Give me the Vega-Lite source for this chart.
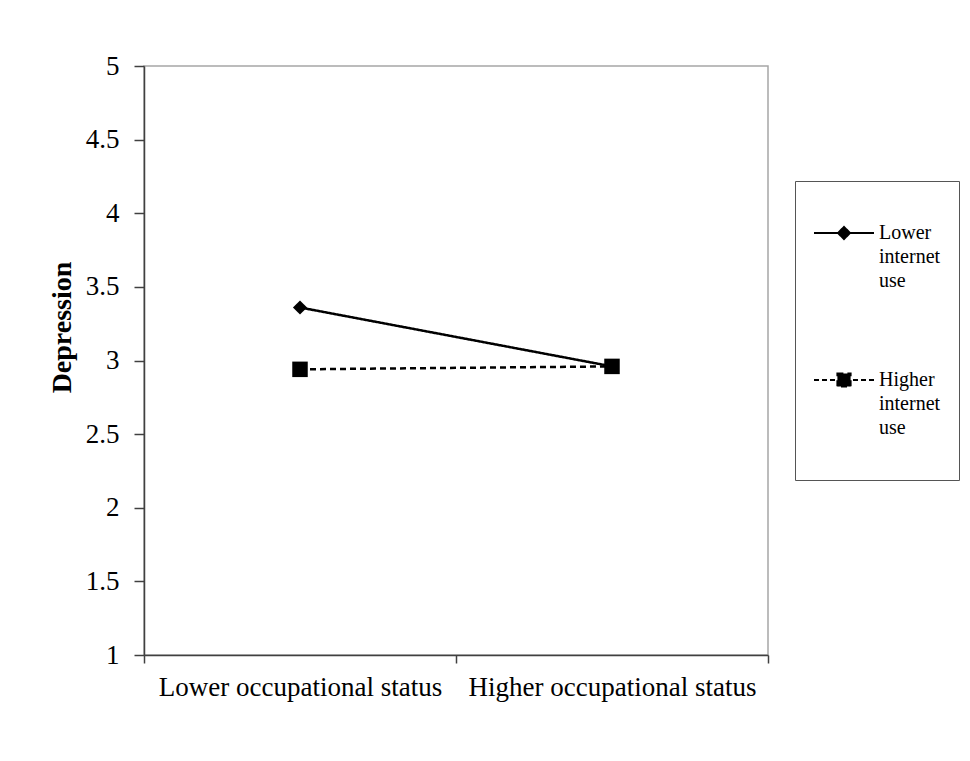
{
  "$schema": "https://vega.github.io/schema/vega-lite/v6.json",
  "width": 624,
  "height": 589,
  "autosize": {"type": "none"},
  "padding": {"left": 144, "top": 66, "right": 202, "bottom": 106},
  "background": "white",
  "config": {
    "view": {"stroke": "#a6a6a6", "strokeWidth": 1.5},
    "font": "Liberation Serif"
  },
  "data": {
    "values": [
      {"status": "Lower occupational status", "group": "Lower internet use", "depression": 3.36},
      {"status": "Higher occupational status", "group": "Lower internet use", "depression": 2.96},
      {"status": "Lower occupational status", "group": "Higher internet use", "depression": 2.94},
      {"status": "Higher occupational status", "group": "Higher internet use", "depression": 2.96}
    ]
  },
  "encoding": {
    "x": {
      "field": "status",
      "type": "nominal",
      "sort": ["Lower occupational status", "Higher occupational status"],
      "scale": {"paddingInner": 0, "paddingOuter": 0},
      "axis": {
        "title": null,
        "labelAngle": 0,
        "tickBand": "extent",
        "labelFont": "Liberation Serif",
        "labelFontSize": 27,
        "labelColor": "black",
        "labelPadding": 11,
        "labelLimit": 400,
        "tickSize": 8,
        "tickColor": "#404040",
        "tickWidth": 1.5,
        "domainColor": "#404040",
        "domainWidth": 1.5
      }
    },
    "y": {
      "field": "depression",
      "type": "quantitative",
      "scale": {"domain": [1, 5], "nice": false, "zero": false},
      "axis": {
        "title": "Depression",
        "titleFont": "Liberation Serif",
        "titleFontSize": 28,
        "titleFontWeight": "bold",
        "titleColor": "black",
        "titlePadding": 9,
        "titleY": 261,
        "values": [1, 1.5, 2, 2.5, 3, 3.5, 4, 4.5, 5],
        "format": "~g",
        "grid": false,
        "labelFont": "Liberation Serif",
        "labelFontSize": 27,
        "labelColor": "black",
        "labelPadding": 15,
        "tickSize": 10,
        "tickColor": "#404040",
        "tickWidth": 1.5,
        "domainColor": "#404040",
        "domainWidth": 1.5
      }
    }
  },
  "layer": [
    {
      "mark": {"type": "line", "color": "black", "strokeWidth": 2.5},
      "encoding": {
        "strokeDash": {
          "field": "group",
          "type": "nominal",
          "scale": {"domain": ["Lower internet use", "Higher internet use"], "range": [[1, 0], [6, 4]]},
          "legend": {
            "orient": "none",
            "legendX": 651,
            "legendY": 115,
            "title": null,
            "padding": 18,
            "strokeColor": "#555555",
            "fillColor": "white",
            "rowPadding": 55,
            "labelFont": "Liberation Serif",
            "labelFontSize": 20,
            "labelColor": "black",
            "labelLimit": 200,
            "labelOffset": 4,
            "labelBaseline": "top",
            "labelExpr": "datum.value === 'Lower internet use' ? [' ', 'Lower', 'internet', 'use'] : [' ', 'Higher', 'internet', 'use', ' ']",
            "symbolSize": 3600,
            "symbolStrokeWidth": 2,
            "symbolStrokeColor": "black",
            "symbolFillColor": "black",
            "encode": {
              "symbols": {
                "update": {
                  "shape": {"signal": "datum.value === 'Lower internet use' ? 'M-1,0L1,0M0,-0.2L0.2,0L0,0.2L-0.2,0Z' : 'M-1,0L-0.833,0M-0.733,0L-0.567,0M-0.467,0L-0.3,0M0.3,0L0.467,0M0.567,0L0.733,0M0.833,0L1,0M-0.22,-0.22L0.22,-0.22L0.22,0.22L-0.22,0.22Z'"},
                  "strokeDash": {"signal": "[1, 0]"},
                  "fill": {"value": "black"},
                  "stroke": {"value": "black"},
                  "y": {"value": 34}
                }
              },
              "labels": {
                "update": {
                  "lineHeight": {"value": 24},
                  "y": {"value": 0}
                }
              }
            }
          }
        }
      }
    },
    {
      "transform": [{"filter": "datum.group === 'Lower internet use'"}],
      "mark": {"type": "point", "filled": true, "color": "black", "opacity": 1, "shape": "diamond", "size": 200}
    },
    {
      "transform": [{"filter": "datum.group === 'Higher internet use'"}],
      "mark": {"type": "point", "filled": true, "color": "black", "opacity": 1, "shape": "square", "size": 240}
    }
  ]
}
